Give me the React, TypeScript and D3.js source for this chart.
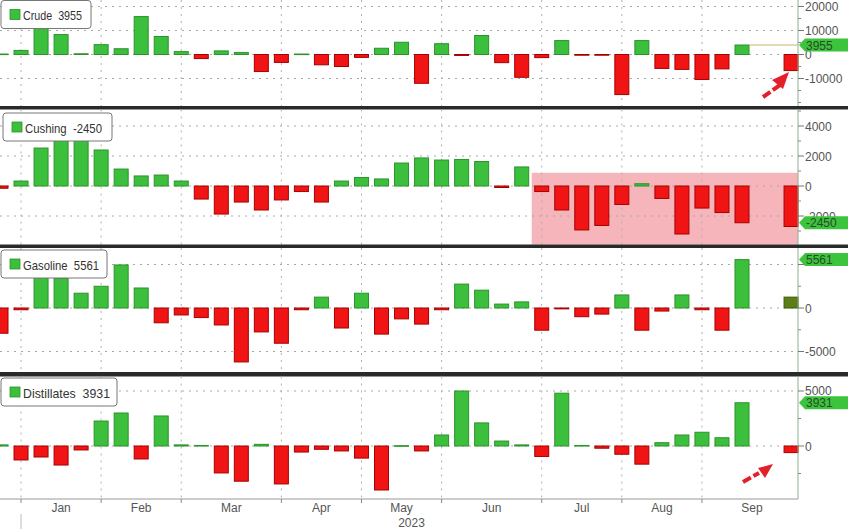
import React from "react";
import * as d3 from "d3";

// ---- data (weekly changes, thousand barrels) ----
const monthNames = ["Jan", "Feb", "Mar", "Apr", "May", "Jun", "Jul", "Aug", "Sep"];
const monthStartWeek = [1, 5, 9, 14, 18, 22, 27, 31, 35];
const lastWeekEnd = 40;
const latestWeek = 39.45;
const yearLabel = "2023";

const crude = [200, 1700, 10800, 8300, 300, 4100, 2400, 15800, 7500, 1200, -1700, 1500, 800, -7100, -3300, 200, -4300, -5000, -1200, 2600, 5100, -12000, 4500, -400, 7900, -3400, -9500, -1300, 5800, -300, -300, -16700, 5800, -5800, -6200, -10400, -6000, 3955];
const cushing = [-150, 330, 2530, 3300, 3100, 2400, 1130, 670, 730, 330, -870, -1870, -1070, -1600, -930, -370, -1070, 330, 570, 470, 1530, 1870, 1730, 1770, 1630, -100, 1270, -370, -1600, -2930, -2630, -1230, 150, -830, -3200, -1470, -1770, -2450];
const gasoline = [-2900, -200, 3500, 3400, 1700, 2500, 4950, 2300, -1700, -800, -1100, -1950, -6200, -2750, -4050, -200, 1250, -2300, 1700, -3000, -1250, -1850, -200, 2750, 2050, 450, 700, -2550, -100, -1000, -700, 1500, -2550, -350, 1500, -200, -2550, 5561];
const distillates = [100, -1270, -1000, -1730, -360, 2270, 3000, -1180, 2730, 100, 50, -2450, -3200, 150, -3450, -550, -300, -450, -1100, -4000, 30, -450, 1000, 5000, 2100, 450, 100, -950, 4800, 50, -200, -750, -1650, 300, 1000, 1250, 750, 3931];

const crudeLatest = -6700;
const cushingLatest = -2700;
const gasolineLatest = 1250;
const distillatesLatest = -600;

const crudeTicks = [-10000, 0, 10000, 20000];
const cushingTicks = [-2000, 0, 2000, 4000];
const gasolineTicks = [-5000, 0, 5000];
const distillatesTicks = [0, 5000];

const cushingShadeFrom = 26.5;
const cushingShadeTop = 880;

const GREEN = "#3cbf3c";
const GREEN_S = "#2b932b";
const RED = "#f01414";
const RED_S = "#a80000";
const OLIVE = "#5b7f14";
const FONT = "'Liberation Sans', Arial, sans-serif";

type Panel = {
  name: string;
  values: number[];
  latest: number;
  latestColor?: string;
  top: number;
  bottom: number;
  domain: [number, number];
  ticks: number[];
  minor: number;
  legendW: number;
  legendTextW: number;
  legendX: number;
  legendY: number;
};

const panels: Panel[] = [
  { name: "Crude", values: crude, latest: crudeLatest, top: 0, bottom: 106, domain: [-21458, 22708], ticks: crudeTicks, minor: 5000, legendW: 90, legendTextW: 59, legendX: 1, legendY: 0.5 },
  { name: "Cushing", values: cushing, latest: cushingLatest, top: 109.5, bottom: 244.5, domain: [-3900, 5100], ticks: cushingTicks, minor: 1000, legendW: 109, legendTextW: 77, legendX: 3, legendY: 113 },
  { name: "Gasoline", values: gasoline, latest: gasolineLatest, latestColor: OLIVE, top: 248, bottom: 372, domain: [-7356, 6897], ticks: gasolineTicks, minor: 2500, legendW: 106, legendTextW: 76, legendX: 1, legendY: 250 },
  { name: "Distillates", values: distillates, latest: distillatesLatest, top: 376.5, bottom: 499, domain: [-4818, 6318], ticks: distillatesTicks, minor: 2500, legendW: 116, legendTextW: 87, legendX: 1, legendY: 378 },
];

export default function App() {
  const W = 848;
  const H = 529;
  const plotRight = 798;
  const x = d3.scaleLinear().domain([0, 37]).range([1, 742]);
  const barW = 14;

  const bar = (key: string, cx: number, v: number, y: d3.ScaleLinear<number, number>, color?: string) => {
    const y0 = y(0);
    const y1 = y(v);
    const pos = v >= 0;
    const fill = color ?? (pos ? GREEN : RED);
    const stroke = color ? "#3d5a0a" : pos ? GREEN_S : RED_S;
    return (
      <rect key={key} x={cx - barW / 2} y={Math.min(y0, y1)} width={barW} height={Math.max(0.6, Math.abs(y1 - y0))} fill={fill} stroke={stroke} strokeWidth={1} />
    );
  };

  return (
    <svg width={W} height={H} style={{ position: "absolute", left: 0, top: 0, display: "block", background: "#fff" }} fontFamily={FONT}>
      <rect x={0} y={0} width={W} height={H} fill="#fff" />
      {panels.map((p, pi) => {
        const y = d3.scaleLinear().domain(p.domain).range([p.bottom, p.top]);
        const last = p.values[p.values.length - 1];
        const minorTicks = d3.range(Math.ceil(p.domain[0] / p.minor) * p.minor, p.domain[1], p.minor).filter((v) => !p.ticks.includes(v));
        const tagY = y(last);
        const label = `${p.name}  ${last}`;
        const shadeX = (x(cushingShadeFrom - 0.5) + x(cushingShadeFrom + 0.5)) / 2;
        return (
          <g key={p.name}>
            {p.name === "Cushing" && (
              <rect x={shadeX} y={y(cushingShadeTop)} width={plotRight - shadeX} height={p.bottom - y(cushingShadeTop)} fill="#f5b5ba" />
            )}
            {/* gridlines */}
            {p.ticks.map((t) => (
              <line key={"h" + t} x1={0} x2={plotRight} y1={y(t)} y2={y(t)} stroke="#a8a8a8" strokeWidth={1} strokeDasharray="2,5" />
            ))}
            {monthStartWeek.map((w) => (
              <line key={"v" + w} x1={x(w)} x2={x(w)} y1={p.top} y2={p.bottom} stroke="#b0b0b0" strokeWidth={1} strokeDasharray="2,5" />
            ))}
            {/* bars */}
            {p.values.map((v, i) => bar(p.name + i, x(i), v, y))}
            {bar(p.name + "latest", x(latestWeek), p.latest, y, p.latestColor)}
            {p.name === "Crude" && (
              <line x1={x(37) + barW / 2} x2={plotRight} y1={y(last)} y2={y(last)} stroke="#d2b46c" strokeWidth={1.2} />
            )}
            {/* right axis */}
            <line x1={plotRight} x2={plotRight} y1={p.top} y2={p.bottom} stroke="#8fb08f" strokeWidth={1} />
            {minorTicks.map((t) => (
              <line key={"m" + t} x1={plotRight} x2={plotRight + 3} y1={y(t)} y2={y(t)} stroke="#888" />
            ))}
            {p.ticks.map((t) => (
              <g key={"t" + t}>
                <line x1={plotRight} x2={plotRight + 6} y1={y(t)} y2={y(t)} stroke="#777" />
                {Math.abs(y(t) - tagY) > 6 && (
                  <text x={plotRight + 7} y={y(t) + 4.5} fontSize={12} fill="#555">{String(t)}</text>
                )}
              </g>
            ))}
            {/* value tag */}
            <path d={`M${plotRight + 1},${tagY} L${plotRight + 7},${tagY - 6.5} L${W},${tagY - 6.5} L${W},${tagY + 6.5} L${plotRight + 7},${tagY + 6.5} Z`} fill="#3cc43c" />
            <text x={plotRight + 8} y={tagY + 4.5} fontSize={12} fill="#2a4a2a">{String(last)}</text>
            {/* legend */}
            <rect x={p.legendX} y={p.legendY} width={p.legendW} height={28} rx={3} fill="#fff" stroke="#777" strokeWidth={1} />
            <rect x={p.legendX + 9} y={p.legendY + 9} width={10} height={10} fill={GREEN} stroke={GREEN_S} strokeWidth={0.8} />
            <text x={p.legendX + 22} y={p.legendY + 19.5} fontSize={13.5} fill="#333" textLength={p.legendTextW} lengthAdjust="spacingAndGlyphs" xmlSpace="preserve">{label}</text>
            {/* separator */}
            {pi < panels.length - 1 && (
              <rect x={0} y={p.bottom} width={W} height={panels[pi + 1].top - p.bottom} fill="#2a2a2a" />
            )}
          </g>
        );
      })}
      {/* bottom axis */}
      <line x1={0} x2={plotRight} y1={499} y2={499} stroke="#999" />
      {monthStartWeek.map((w) => (
        <line key={"bt" + w} x1={x(w)} x2={x(w)} y1={499} y2={503} stroke="#888" />
      ))}
      {monthNames.map((m, i) => {
        const a = monthStartWeek[i];
        const b = i + 1 < monthStartWeek.length ? monthStartWeek[i + 1] : lastWeekEnd;
        return (
          <text key={m} x={x((a + b) / 2)} y={512} fontSize={12} fill="#555" textAnchor="middle">{m}</text>
        );
      })}
      <text x={x(20.5)} y={527} fontSize={12} fill="#555" textAnchor="middle">{yearLabel}</text>
      <line x1={x(1)} x2={x(1)} y1={514} y2={529} stroke="#bbb" />
      {/* annotation arrows */}
      <g fill="#e3202a" stroke="none">
        <line x1={763} y1={97} x2={780} y2={85} stroke="#e3202a" strokeWidth={4} strokeDasharray="9,3" />
        <polygon points="772,80 789,72 783,89" />
        <line x1={743} y1={482} x2={759} y2={473} stroke="#e3202a" strokeWidth={4} strokeDasharray="9,3" />
        <polygon points="758,468 773,464 765,478" />
      </g>
    </svg>
  );
}
